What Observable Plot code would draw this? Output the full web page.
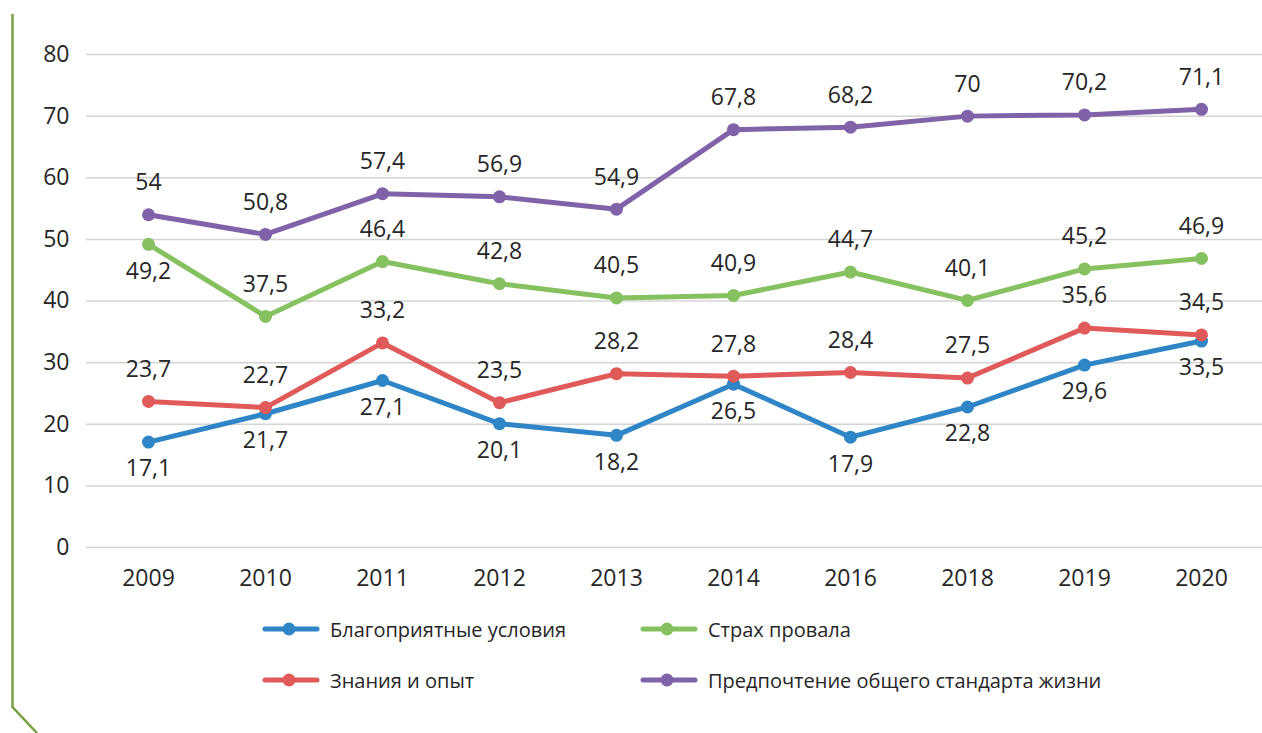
<!DOCTYPE html>
<html>
<head>
<meta charset="utf-8">
<script src="https://cdn.jsdelivr.net/npm/d3@7"></script>
<script src="https://cdn.jsdelivr.net/npm/@observablehq/plot@0.6"></script>
<style>
  html, body { margin: 0; padding: 0; background: #fff; width: 1262px; height: 733px; overflow: hidden; font-family: "Open Sans", sans-serif; }
  #wrap { position: relative; width: 1262px; height: 733px; }
  #border { position: absolute; left: 0; top: 0; pointer-events: none; }
  .leg { position: absolute; display: flex; align-items: center; font-size: 20px; color: #262626; white-space: nowrap; }
  .leg svg { margin-right: 10px; }
</style>
</head>
<body>
<div id="wrap">
  <div id="chart"></div>
  <div id="legend"></div>
  <svg id="border" width="1262" height="733"><polyline points="12.5,14 12.5,707 37,733" fill="none" stroke="#76a03f" stroke-width="2.5"/></svg>
</div>
<script>
const years = ["2009","2010","2011","2012","2013","2014","2016","2018","2019","2020"];
const seriesNames = ["Благоприятные условия","Страх провала","Знания и опыт","Предпочтение общего стандарта жизни"];
const colors = ["#2e86c6","#86c160","#e05a5a","#7f62a8"];
const favorable = [17.1,21.7,27.1,20.1,18.2,26.5,17.9,22.8,29.6,33.5];
const fear = [49.2,37.5,46.4,42.8,40.5,40.9,44.7,40.1,45.2,46.9];
const knowledge = [23.7,22.7,33.2,23.5,28.2,27.8,28.4,27.5,35.6,34.5];
const preference = [54,50.8,57.4,56.9,54.9,67.8,68.2,70,70.2,71.1];
const yTicks = [0,10,20,30,40,50,60,70,80];

const allValues = [favorable, fear, knowledge, preference];
const rows = [];
allValues.forEach((vals, si) => {
  vals.forEach((v, i) => {
    // label placement: blue below, green first point below, others above
    const below = si === 0 || (si === 1 && i === 0);
    rows.push({year: years[i], value: v, series: seriesNames[si], below, label: String(v).replace(".", ",")});
  });
});

const chart = Plot.plot({
  width: 1262,
  height: 600,
  marginLeft: 86,
  marginRight: 0,
  marginTop: 54,
  marginBottom: 53,
  style: {fontFamily: "Open Sans, sans-serif", fontSize: "23px", color: "#262626", background: "transparent"},
  x: {type: "point", domain: years, padding: 0.5, label: null},
  y: {domain: [0, 80], label: null},
  color: {domain: seriesNames, range: colors},
  marks: [
    Plot.ruleY(yTicks, {stroke: "#d4d4d4", strokeWidth: 1.5}),
    Plot.axisY({ticks: yTicks, tickSize: 0, tickPadding: 17, label: null, fontSize: 23}),
    Plot.axisX({tickSize: 0, tickPadding: 22, label: null, fontSize: 23}),
    Plot.line(rows, {x: "year", y: "value", z: "series", stroke: "series", strokeWidth: 5, strokeLinejoin: "round", strokeLinecap: "round"}),
    Plot.dot(rows, {x: "year", y: "value", fill: "series", r: 6.5}),
    Plot.text(rows.filter(d => !d.below), {x: "year", y: "value", text: "label", dy: -32, fill: "#262626", fontSize: 23}),
    Plot.text(rows.filter(d => d.below), {x: "year", y: "value", text: "label", dy: 27, fill: "#262626", fontSize: 23})
  ]
});
document.getElementById("chart").appendChild(chart);

const legendPos = [
  {left: 262, top: 629}, {left: 640, top: 629},
  {left: 262, top: 680}, {left: 640, top: 680}
];
const legend = document.getElementById("legend");
seriesNames.forEach((name, i) => {
  const div = document.createElement("div");
  div.className = "leg";
  div.style.left = legendPos[i].left + "px";
  div.style.top = (legendPos[i].top - 14) + "px";
  div.style.height = "28px";
  div.innerHTML = `<svg width="58" height="16"><line x1="3" y1="8" x2="55" y2="8" stroke="${colors[i]}" stroke-width="5" stroke-linecap="round"/><circle cx="27" cy="8" r="6.5" fill="${colors[i]}"/></svg><span>${name}</span>`;
  legend.appendChild(div);
});
</script>
</body>
</html>
